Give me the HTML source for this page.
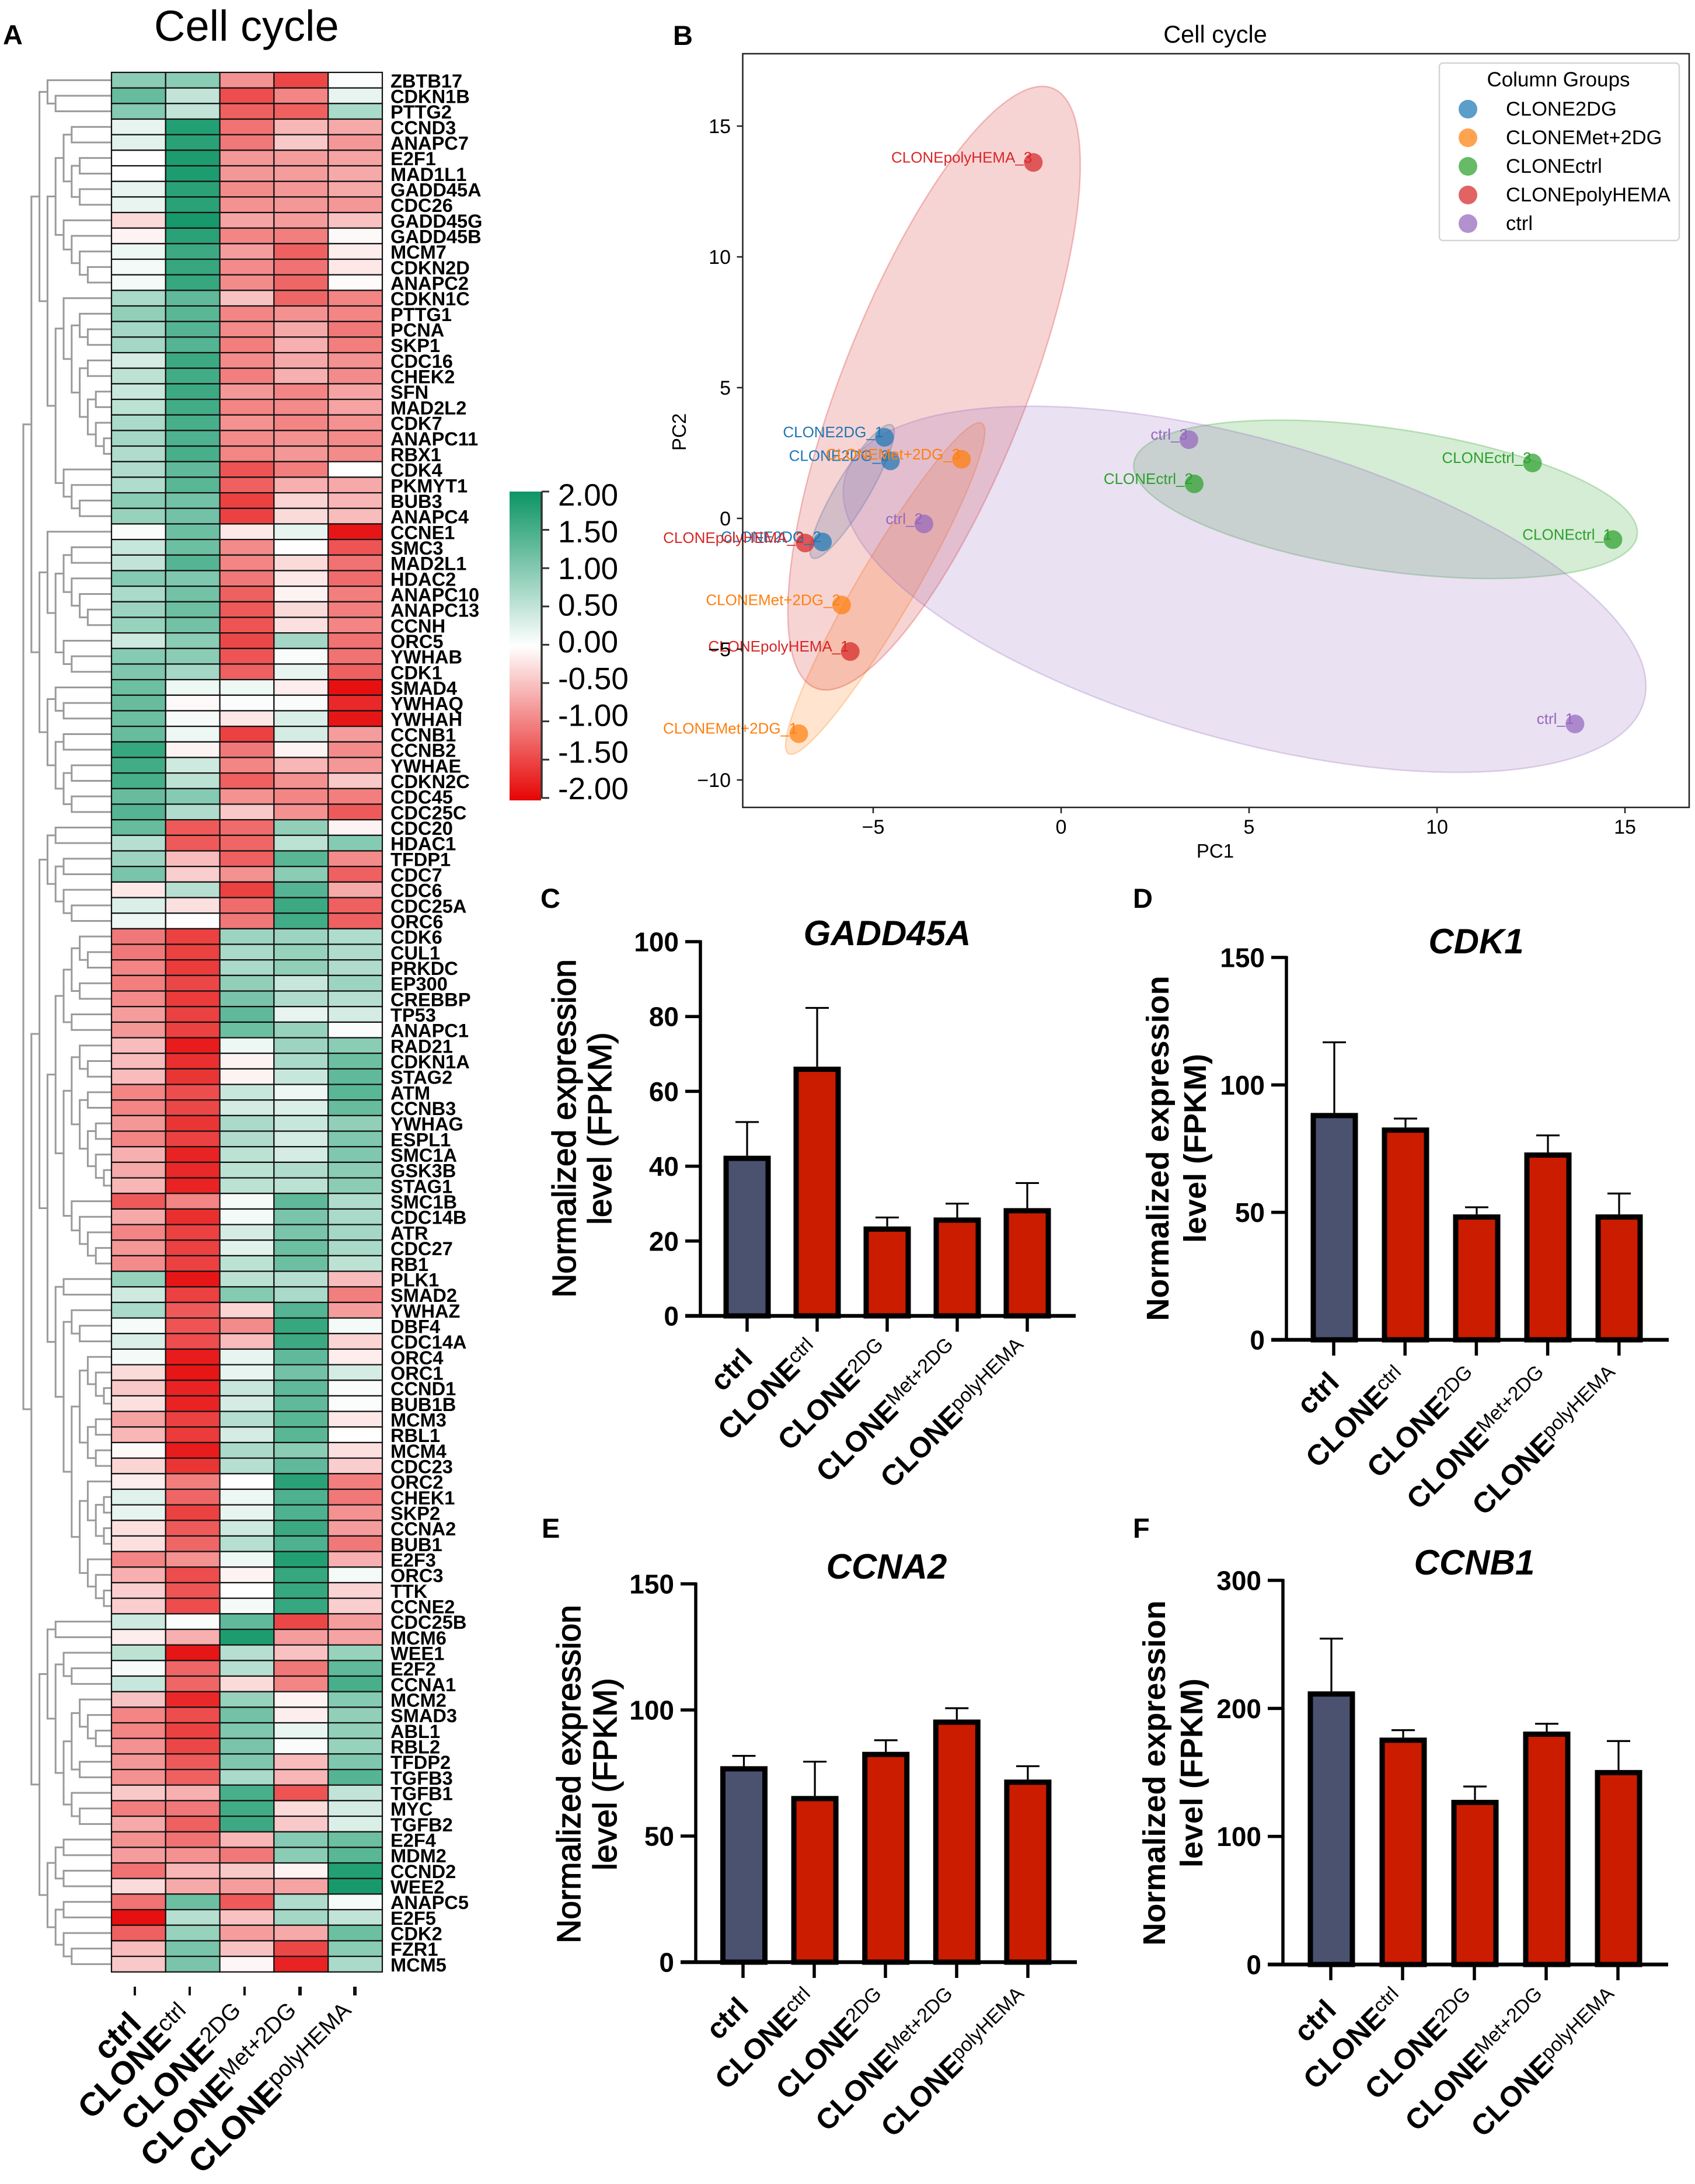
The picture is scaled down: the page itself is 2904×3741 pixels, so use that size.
<!DOCTYPE html>
<html lang="en">
<head>
<meta charset="utf-8">
<title>Cell cycle figure</title>
<style>
html,body{margin:0;padding:0;background:#fff;}
svg{display:block;font-family:"Liberation Sans",Arial,sans-serif;}
</style>
</head>
<body>
<svg id="figure" xmlns="http://www.w3.org/2000/svg" width="2904" height="3741" viewBox="0 0 2904 3741">
  <rect x="0" y="0" width="2904" height="3741" fill="#fff"/>
  <text x="5" y="76" font-size="47" font-weight="bold">A</text>
  <text x="1153" y="77" font-size="47" font-weight="bold">B</text>
  <text x="926" y="1555" font-size="47" font-weight="bold">C</text>
  <text x="1941" y="1555" font-size="47" font-weight="bold">D</text>
  <text x="928" y="2634" font-size="47" font-weight="bold">E</text>
  <text x="1941" y="2634" font-size="47" font-weight="bold">F</text>
  <text x="264" y="70" font-size="74">Cell cycle</text>
  <defs>
    <linearGradient id="cbar" x1="0" y1="0" x2="0" y2="1">
      <stop offset="0" stop-color="#0b9464"/>
      <stop offset="0.5" stop-color="#ffffff"/>
      <stop offset="1" stop-color="#e60505"/>
    </linearGradient>
  </defs>
  <rect x="873" y="842" width="54" height="529" fill="url(#cbar)"/>
  <g id="dendrogram" fill="none" stroke="#9a9a9a" stroke-width="3"></g>
  <g id="heatmap"></g>
  <g id="heatmapAxes"></g>
  <g id="colorbarAxis"></g>
  <g id="pca"></g>
  <g id="bars"></g>
</svg>
<script>
/* ---------- heatmap data ---------- */
const genes = ["ZBTB17","CDKN1B","PTTG2","CCND3","ANAPC7","E2F1","MAD1L1","GADD45A","CDC26","GADD45G",
"GADD45B","MCM7","CDKN2D","ANAPC2","CDKN1C","PTTG1","PCNA","SKP1","CDC16","CHEK2",
"SFN","MAD2L2","CDK7","ANAPC11","RBX1","CDK4","PKMYT1","BUB3","ANAPC4","CCNE1",
"SMC3","MAD2L1","HDAC2","ANAPC10","ANAPC13","CCNH","ORC5","YWHAB","CDK1","SMAD4",
"YWHAQ","YWHAH","CCNB1","CCNB2","YWHAE","CDKN2C","CDC45","CDC25C","CDC20","HDAC1",
"TFDP1","CDC7","CDC6","CDC25A","ORC6","CDK6","CUL1","PRKDC","EP300","CREBBP",
"TP53","ANAPC1","RAD21","CDKN1A","STAG2","ATM","CCNB3","YWHAG","ESPL1","SMC1A",
"GSK3B","STAG1","SMC1B","CDC14B","ATR","CDC27","RB1","PLK1","SMAD2","YWHAZ",
"DBF4","CDC14A","ORC4","ORC1","CCND1","BUB1B","MCM3","RBL1","MCM4","CDC23",
"ORC2","CHEK1","SKP2","CCNA2","BUB1","E2F3","ORC3","TTK","CCNE2","CDC25B",
"MCM6","WEE1","E2F2","CCNA1","MCM2","SMAD3","ABL1","RBL2","TFDP2","TGFB3",
"TGFB1","MYC","TGFB2","E2F4","MDM2","CCND2","WEE2","ANAPC5","E2F5","CDK2",
"FZR1","MCM5"];
const expression = [
[.95,.95,-.9,-1.5,.03],[1.25,.5,-1.45,-1,.2],[1,.5,-1.3,-1.3,.7],[.2,1.8,-1.15,-.6,-.7],[.25,1.75,-1.1,-.45,-.85],
[0,1.85,-.85,-.8,-.75],[0,1.85,-.85,-.8,-.7],[.2,1.75,-.95,-.85,-.7],[.2,1.75,-.9,-.85,-.85],[-.3,1.9,-.75,-.8,-.5],
[-.1,1.75,-1,-1.05,-.05],[.15,1.6,-.8,-1.3,-.15],[.1,1.65,-.95,-1.15,-.2],[.1,1.65,-.95,-1.25,-.03],[.7,1.3,-.5,-1.25,-1],
[.9,1.35,-1,-.9,-1],[.75,1.4,-.95,-.7,-1.1],[.75,1.4,-1.05,-.65,-1.05],[.35,1.6,-.95,-.7,-.9],[.55,1.55,-1.05,-.65,-.95],
[.45,1.6,-.85,-1,-.75],[.55,1.55,-1,-.95,-.75],[.7,1.5,-.9,-1,-.9],[.75,1.45,-.95,-.9,-.95],[.65,1.5,-1,-.85,-.95],
[.65,1.3,-1.4,-1.05,0],[.65,1.35,-1.3,-.65,-.7],[.95,1.15,-1.55,-.35,-.6],[.85,1.15,-1.55,-.3,-.55],[.05,1.2,-.2,.2,-1.9],
[.45,1.2,-.95,.02,-1.4],[.5,1.4,-1,-.3,-1.15],[1,1.05,-1.1,-.2,-1.2],[.7,1.15,-1.3,-.1,-1.05],[.8,1.2,-1.35,-.3,-1.05],
[.85,1.15,-1.4,-.25,-1],[.4,.95,-1.5,.75,-1.15],[1,.95,-1.4,.05,-1.15],[1.05,.75,-1.3,.2,-1.3],[1.2,.15,.15,-.15,-1.95],
[1.25,-.05,.03,.05,-1.75],[1.2,.07,-.2,.3,-1.9],[1.25,.15,-1.55,.35,-.8],[1.65,-.1,-1.1,-.1,-.95],[1.55,.4,-1,-.6,-.85],
[1.5,.55,-1.3,-.9,-.45],[1.25,1,-.9,-1,-1.05],[1.4,.65,-.45,-.9,-1.35],[1.25,-1.35,-1.2,.9,-.1],[.6,-1.35,-1.25,.55,1],
[.8,-.55,-1.3,1.35,-.95],[1.1,-.4,-.9,.95,-1.3],[-.2,.6,-1.55,1.4,-.7],[.3,-.25,-1.2,1.6,-1.3],[.15,.02,-1.1,1.55,-1.3],
[-1.1,-1.55,.8,.8,.65],[-1.1,-1.55,.7,.85,.65],[-1,-1.6,.7,.9,.65],[-1.05,-1.5,.9,.45,.8],[-.95,-1.6,1.1,.65,.6],
[-.8,-1.55,1.3,.2,.35],[-.85,-1.55,1.2,.85,.05],[-.55,-1.85,.15,.8,.95],[-.55,-1.7,-.1,.7,1.2],[-.55,-1.65,-.1,.45,1.3],
[-1,-1.45,.45,.15,1.35],[-1,-1.5,.35,.3,1.25],[-.85,-1.65,.7,.45,.9],[-1,-1.55,.65,.35,1.05],[-.65,-1.8,.55,.35,1.05],
[-.7,-1.75,.55,.65,.95],[-.6,-1.8,.55,.55,.95],[-1.35,-1,.07,1.3,.65],[-.7,-1.7,.1,1.1,.7],[-1,-1.55,.35,1.1,.75],
[-.85,-1.55,.25,1.2,.7],[-.95,-1.55,.55,1.2,.55],[.85,-1.9,.55,.6,-.55],[.4,-1.55,1,.7,-1.05],[.7,-1.35,-.35,1.4,-.8],
[.08,-1.4,-.95,1.65,.1],[.3,-1.45,-.55,1.6,-.35],[.1,-1.85,.2,1.3,-.15],[-.3,-1.9,.2,1.15,.35],[-.45,-1.8,.45,1.3,.05],
[-.25,-1.8,.35,1.3,.03],[-.75,-1.55,.6,1.35,-.2],[-.6,-1.6,.35,1.35,0],[-.05,-1.85,.7,.95,-.25],[-.35,-1.65,.6,1.3,-.4],
[-.15,-1.05,0,1.75,-1.05],[.25,-1.25,.15,1.45,-1.1],[.2,-1.55,.2,1.45,-.9],[-.25,-1.35,.4,1.6,-.8],[-.25,-1.25,.6,1.45,-1.1],
[-1,-.9,.15,1.8,-.65],[-.65,-1.45,-.1,1.65,.1],[-.4,-1.4,0,1.65,-.35],[-.4,-1.45,.1,1.65,-.4],[.4,.05,1.3,-1.5,-.8],
[-.15,-.65,1.85,-.8,-.75],[.55,-1.9,.6,-.5,.85],[.07,-1.25,.6,-1.1,1.3],[.45,-1.25,-.3,-1,1.5],[-.5,-1.75,.85,-.1,1],
[-1,-1.45,1.15,-.15,.9],[-1,-1.55,1.05,.18,.9],[-.9,-1.5,1.1,.05,.85],[-.85,-1.35,1.05,-.55,1.05],[-.9,-1.3,.7,-.6,1.4],
[-.45,-.65,1.5,-1.4,.5],[-1.05,-1.1,1.55,-.3,.35],[-.7,-1.3,1.6,-.45,.3],[-.9,-1.15,-.6,1,1.2],[-.8,-.9,-1.1,.95,1.35],
[-1.15,-.6,-.45,-.1,1.8],[-.3,-.7,-.8,-.75,1.9],[-1.15,1.2,-1.35,.65,.08],[-1.95,.6,-.5,.75,.5],[-1.3,.85,-.8,-.7,1.2],
[-.55,1.1,-.5,-1.5,.95],[-.45,1.1,-.07,-1.8,.7]
];
/* dendrogram topology: L = one leaf, P = a pair of leaves, n() = a merge */
const L = ".";
const P = "(..)";
function n(){ return "(" + Array.prototype.join.call(arguments, "") + ")"; }
const cladeTop = n(L, P);
const cladeG2A = n(n(P, n(P, P)), n(L, n(L, n(L, P))));
const cladeG2B = n(n(L, n(n(L, P), n(P, n(P, n(L, P))))), n(L, n(L, P)));
const treeA = n(cladeTop, n(cladeG2A, cladeG2B));
const treeB = n(n(L, n(n(P, n(L, n(L, P))), n(L, P))), n(n(L, P), n(P, n(P, P))));
const treeC1 = n(P, n(P, n(L, P)));
const cladeCdk6 = n(n(n(L, P), P), P);
const cladeRad21 = n(n(n(L, P), n(P, n(P, n(L, P)))), n(L, n(L, n(L, P))));
const cladePlk1 = n(P, n(n(L, P), n(n(n(L, n(L, P)), n(P, P)), n(n(L, n(P, P)), n(L, n(L, P))))));
const treeC2 = n(n(cladeCdk6, cladeRad21), cladePlk1);
const treeD1 = n(P, n(n(L, P), n(n(n(L, n(L, P)), P), n(L, P))));
const treeD2 = n(n(P, P), n(P, n(L, P)));
const sampleBase = ["ctrl","CLONE","CLONE","CLONE","CLONE"];
const sampleSup = ["","ctrl","2DG","Met+2DG","polyHEMA"];
const colorbarTicks = ["2.00","1.50","1.00","0.50","0.00","-0.50","-1.00","-1.50","-2.00"];

/* ---------- PCA data ---------- */
const pcaSamples = ["CLONE2DG_1","CLONE2DG_3","CLONE2DG_2","CLONEMet+2DG_1","CLONEMet+2DG_2","CLONEMet+2DG_3","CLONEctrl_1","CLONEctrl_2","CLONEctrl_3","CLONEpolyHEMA_1","CLONEpolyHEMA_2","CLONEpolyHEMA_3","ctrl_1","ctrl_2","ctrl_3"];
const pcaGroupIndex = [0,0,0,1,1,1,2,2,2,3,3,3,4,4,4];
const pc1Values = [-4.70,-4.54,-6.35,-6.98,-5.84,-2.65,14.68,3.54,12.54,-5.61,-6.81,-0.74,13.67,-3.65,3.40];
const pc2Values = [3.10,2.20,-0.90,-8.23,-3.31,2.26,-0.81,1.32,2.12,-5.09,-0.94,13.61,-7.86,-0.21,3.01];
const pcaGroups = ["CLONE2DG","CLONEMet+2DG","CLONEctrl","CLONEpolyHEMA","ctrl"];
const pcaColors = ["#1f77b4","#ff7f0e","#2ca02c","#d62728","#9467bd"];
const ellipseCx = [-5.56,-4.68,8.63,-3.38,4.88];
const ellipseCy = [1.03,-2.68,0.73,4.98,-2.71];
const ellipseHx = [1.12,2.65,6.70,3.89,10.68];
const ellipseHy = [2.56,6.34,3.03,11.54,7.00];
const ellipseRho = [0.89,0.945,-0.42,0.74,-0.53];
const pcaXTicks = [-5,0,5,10,15];
const pcaYTicks = [-10,-5,0,5,10,15];

/* ---------- bar data ---------- */
const gadd45aMeans = [42.8,66.6,23.9,26.3,28.8];
const gadd45aTops = [51.8,82.3,26.3,30,35.5];
const gadd45aTicks = [0,20,40,60,80,100];
const cdk1Means = [89,83.3,49.2,73.5,49.2];
const cdk1Tops = [116.7,86.8,52,80.2,57.4];
const cdk1Ticks = [0,50,100,150];
const ccna2Means = [77.7,65.9,83.4,96.2,72.4];
const ccna2Tops = [81.8,79.5,88,100.7,77.7];
const ccna2Ticks = [0,50,100,150];
const ccnb1Means = [213.3,177.2,128.6,181.9,151.9];
const ccnb1Tops = [254.5,183,139,188,174.5];
const ccnb1Ticks = [0,100,200,300];

/* ---------- helpers ---------- */
const NS = "http://www.w3.org/2000/svg";
function mk(tag, attrs, parent, txt){
  const e = document.createElementNS(NS, tag);
  for (const k in attrs) e.setAttribute(k, attrs[k]);
  if (txt !== undefined) e.textContent = txt;
  parent.appendChild(e);
  return e;
}
function mix(c, t){
  const f = i => Math.round(255 + (c[i]-255)*t);
  return "rgb("+f(0)+","+f(1)+","+f(2)+")";
}
function heatColor(v){
  const t = Math.min(1, Math.abs(v)/2);
  return v >= 0 ? mix([11,148,100], t) : mix([230,10,10], t);
}

/* ---------- heatmap ---------- */
const hm = document.getElementById("heatmap");
const hmLeft = 191, hmTop = 124, colW = 92.8, rowH = 26.67;
const colX = c => hmLeft + c*colW;
const rowY = r => hmTop + r*rowH;
expression.forEach((row, r) => {
  row.forEach((v, c) => {
    const cell = mk("rect", {x:colX(c), y:rowY(r), width:colW, height:rowH, fill:heatColor(v), stroke:"#111", "stroke-width":2.2}, hm);
    
    
  });
  const lab = mk("text", {x:669, y:rowY(r)+rowH/2+12.5, "font-size":32.6, "font-weight":"bold"}, hm, genes[r]);
  
  
});

/* ---------- dendrogram ---------- */
const dg = document.getElementById("dendrogram");
const treeStr = n(n(treeA, treeB), n(n(treeC1, treeC2), n(treeD1, treeD2)));
let pos = 0, leaf = 0;
const depthX = d => 40 + 13.8*d;
function walk(depth){
  if (treeStr[pos] === ".") {
    pos++;
    const y = rowY(leaf) + rowH/2;
    leaf++;
    return {x:hmLeft, y:y};
  }
  pos++;
  const kids = [];
  while (pos < treeStr.length && treeStr[pos] !== ")") kids.push(walk(depth+1));
  pos++;
  const x = depthX(depth);
  const y1 = kids[0].y, y2 = kids[kids.length-1].y;
  const p = mk("path", {d:"M"+kids[0].x+" "+y1+"H"+x+"V"+y2+"H"+kids[kids.length-1].x}, dg);
  
  
  return {x:x, y:(y1+y2)/2};
}
walk(0);

/* ---------- sample labels ---------- */
function drawSampleLabel(parent, base, sup, ax, ay, size, supSize, raise){
  const t = mk("text", {x:ax, y:ay, "font-size":size, "font-weight":"bold", "text-anchor":"end", transform:"rotate(-45 "+ax+" "+ay+")"}, parent);
  
  
  mk("tspan", {}, t, base);
  if (sup) mk("tspan", {dy:-raise, "font-size":supSize, "font-weight":"normal"}, t, sup);
}
const hax = document.getElementById("heatmapAxes");
const heatTickX = [231,325,419,514,608];
heatTickX.forEach((x, i) => {
  const tk = mk("line", {x1:x, x2:x, y1:3403, y2:3418, stroke:"#111", "stroke-width":i<3?4:6}, hax);
  
  
  if (sampleSup[i]) drawSampleLabel(hax, sampleBase[i], sampleSup[i], x+7, 3457, 56, 39, 16);
  else drawSampleLabel(hax, sampleBase[i], "", x+14, 3470, 56, 39, 16);
});

/* ---------- colorbar axis ---------- */
const cba = document.getElementById("colorbarAxis");
const cbY = i => 842 + i*65.6;
const spine = mk("line", {x1:928, x2:928, y1:842, y2:1368, stroke:"#333", "stroke-width":3.5}, cba);


colorbarTicks.forEach((s, i) => {
  const tk = mk("line", {x1:928, x2:941, y1:cbY(i), y2:cbY(i), stroke:"#333", "stroke-width":3}, cba);
  
  
  const lb = mk("text", {x:956, y:847+i*62.9+19, "font-size":53}, cba, s);
  
  
});

/* ---------- PCA ---------- */
const pca = document.getElementById("pca");
const pcaX = v => 1818 + v*64.4;
const pcaY = v => 888 - v*44.8;
ellipseCx.forEach((cx, g) => {
  let d = "";
  const s = Math.sqrt(1 - ellipseRho[g]*ellipseRho[g]);
  for (let k = 0; k < 180; k++) {
    const a = k/180*2*Math.PI;
    const ex = cx + ellipseHx[g]*Math.cos(a);
    const ey = ellipseCy[g] + ellipseHy[g]*(ellipseRho[g]*Math.cos(a) + s*Math.sin(a));
    d += (k ? "L" : "M") + pcaX(ex).toFixed(1) + " " + pcaY(ey).toFixed(1);
  }
  const el = mk("path", {d:d+"Z", fill:pcaColors[g], "fill-opacity":0.2, stroke:pcaColors[g], "stroke-opacity":0.28, "stroke-width":2.5}, pca);
  
  
});
pc1Values.forEach((v, i) => {
  const col = pcaColors[pcaGroupIndex[i]];
  const pt = mk("circle", {cx:pcaX(v), cy:pcaY(pc2Values[i]), r:16, fill:col, "fill-opacity":0.72}, pca);
  
  
});
pc1Values.forEach((v, i) => {
  const col = pcaColors[pcaGroupIndex[i]];
  const lb = mk("text", {x:pcaX(v)-2, y:pcaY(pc2Values[i]), "font-size":26, fill:col, "text-anchor":"end"}, pca, pcaSamples[i]);
  
  
});
const frame = mk("rect", {x:1272.5, y:92, width:1621.5, height:1291, fill:"none", stroke:"#222", "stroke-width":2.5}, pca);


pcaXTicks.forEach(v => {
  const tk = mk("line", {x1:pcaX(v), x2:pcaX(v), y1:1383, y2:1393, stroke:"#222", "stroke-width":2.5}, pca);
  
  
  const lb = mk("text", {x:pcaX(v), y:1428, "font-size":34, "text-anchor":"middle"}, pca, String(v).replace("-","\u2212"));
  
  
});
pcaYTicks.forEach(v => {
  const tk = mk("line", {x1:1262.5, x2:1272.5, y1:pcaY(v), y2:pcaY(v), stroke:"#222", "stroke-width":2.5}, pca);
  
  
  const lb = mk("text", {x:1252, y:pcaY(v)+12, "font-size":34, "text-anchor":"end"}, pca, String(v).replace("-","\u2212"));
  
  
});
const pcaTitle = mk("text", {x:2082, y:73, "font-size":41.5, "text-anchor":"middle"}, pca, "Cell cycle");


const pc1Title = mk("text", {x:2082, y:1469, "font-size":33, "text-anchor":"middle"}, pca, "PC1");


const pc2Title = mk("text", {x:1175, y:740, "font-size":33, "text-anchor":"middle", transform:"rotate(-90 1175 740)"}, pca, "PC2");


const legendBox = mk("rect", {x:2466, y:108, width:411, height:304, rx:6, fill:"#fff", "fill-opacity":0.85, stroke:"#d5d5d5", "stroke-width":2.5}, pca);


const legendTitle = mk("text", {x:2670, y:148, "font-size":35, "text-anchor":"middle"}, pca, "Column Groups");


pcaGroups.forEach((g, i) => {
  const y = 187 + i*49;
  const dot = mk("circle", {cx:2515, cy:y, r:16, fill:pcaColors[i], "fill-opacity":0.72}, pca);
  
  
  const tx = mk("text", {x:2580, y:y+11, "font-size":34.5}, pca, g);
  
  
});

/* ---------- bar panels ---------- */
const bars = document.getElementById("bars");
function barPanel(o){
  const g = mk("g", {}, bars);
  
  
  const yMax = o.ticks[o.ticks.length-1];
  const yS = v => o.y0 - v*(o.y0 - o.yTop)/yMax;
  const hw = 40.5, sw = 9;
  o.means.forEach((m, i) => {
    const cx = o.barX0 + i*o.barStep;
    const eb = mk("path", {d:"M"+cx+" "+yS(m)+"V"+yS(o.tops[i])+"M"+(cx-20)+" "+yS(o.tops[i])+"H"+(cx+20), stroke:"#000", "stroke-width":3.2, fill:"none"}, g);
    
    
    const bar = mk("rect", {x:cx-hw+sw/2, y:yS(m)+sw/2, width:2*hw-sw, height:o.y0-yS(m)-sw/2, fill:i===0?"#4a5270":"#cb1c00", stroke:"#000", "stroke-width":sw}, g);
    
    
    const tx = o.tickX0 + i*o.tickStep;
    const tk = mk("line", {x1:tx, x2:tx, y1:o.y0, y2:o.y0+27, stroke:"#000", "stroke-width":5.5}, g);
    
    
    if (sampleSup[i]) drawSampleLabel(g, sampleBase[i], sampleSup[i], tx+5, o.y0+o.supDy, 49.5, 34, 14);
    else drawSampleLabel(g, sampleBase[i], "", tx+12, o.y0+o.ctrlDy, 49.5, 34, 14);
  });
  const ya = mk("line", {x1:o.axisX, x2:o.axisX, y1:yS(yMax)-2.5, y2:o.y0, stroke:"#000", "stroke-width":5.5}, g);
  
  
  const xa = mk("line", {x1:o.axisX-26, x2:o.xEnd, y1:o.y0, y2:o.y0, stroke:"#000", "stroke-width":6.5}, g);
  
  
  o.ticks.forEach(v => {
    const tk = mk("line", {x1:o.axisX-26, x2:o.axisX, y1:yS(v), y2:yS(v), stroke:"#000", "stroke-width":5.5}, g);
    
    
    const lb = mk("text", {x:o.axisX-37, y:yS(v)+16.5, "font-size":46, "font-weight":"bold", "text-anchor":"end"}, g, String(v));
    
    
  });
  const title = mk("text", {x:o.titleX, y:o.titleY, "font-size":60, "font-weight":"bold", "font-style":"italic", "text-anchor":"middle"}, g, o.title);
  
  
  const styl = o.boldLabel ? {"font-size":54, "font-weight":"bold"} : {"font-size":57, stroke:"#000", "stroke-width":1.4};
  const l1 = mk("text", Object.assign({x:o.lab1, y:o.labC, "text-anchor":"middle", transform:"rotate(-90 "+o.lab1+" "+o.labC+")"}, styl), g, "Normalized expression");
  
  
  const l2 = mk("text", Object.assign({x:o.lab2, y:o.labC, "text-anchor":"middle", transform:"rotate(-90 "+o.lab2+" "+o.labC+")"}, styl), g, "level (FPKM)");
  
  
}
barPanel({name:"gadd45a", title:"GADD45A", means:gadd45aMeans, tops:gadd45aTops, ticks:gadd45aTicks, y0:2254, yTop:1613, axisX:1200, xEnd:1843, barX0:1280, barStep:120, tickX0:1280, tickStep:120, supDy:61, ctrlDy:77, titleX:1520, titleY:1619, lab1:986, lab2:1047, labC:1933, boldLabel:false});
barPanel({name:"cdk1", title:"CDK1", means:cdk1Means, tops:cdk1Tops, ticks:cdk1Ticks, y0:2295, yTop:1640, axisX:2204, xEnd:2859, barX0:2286, barStep:122, tickX0:2285, tickStep:122.2, supDy:67, ctrlDy:76, titleX:2529, titleY:1633, lab1:2002, lab2:2066, labC:1967, boldLabel:true});
barPanel({name:"ccna2", title:"CCNA2", means:ccna2Means, tops:ccna2Tops, ticks:ccna2Ticks, y0:3361, yTop:2713, axisX:1192, xEnd:1845, barX0:1274.5, barStep:121.6, tickX0:1273, tickStep:122, supDy:66, ctrlDy:81, titleX:1519, titleY:2704, lab1:994, lab2:1056, labC:3039, boldLabel:false});
barPanel({name:"ccnb1", title:"CCNB1", means:ccnb1Means, tops:ccnb1Tops, ticks:ccnb1Ticks, y0:3365, yTop:2707, axisX:2198, xEnd:2858, barX0:2281, barStep:123, tickX0:2280, tickStep:123, supDy:62, ctrlDy:81, titleX:2526, titleY:2697, lab1:1996, lab2:2060, labC:3037, boldLabel:true});
</script>
</body>
</html>
